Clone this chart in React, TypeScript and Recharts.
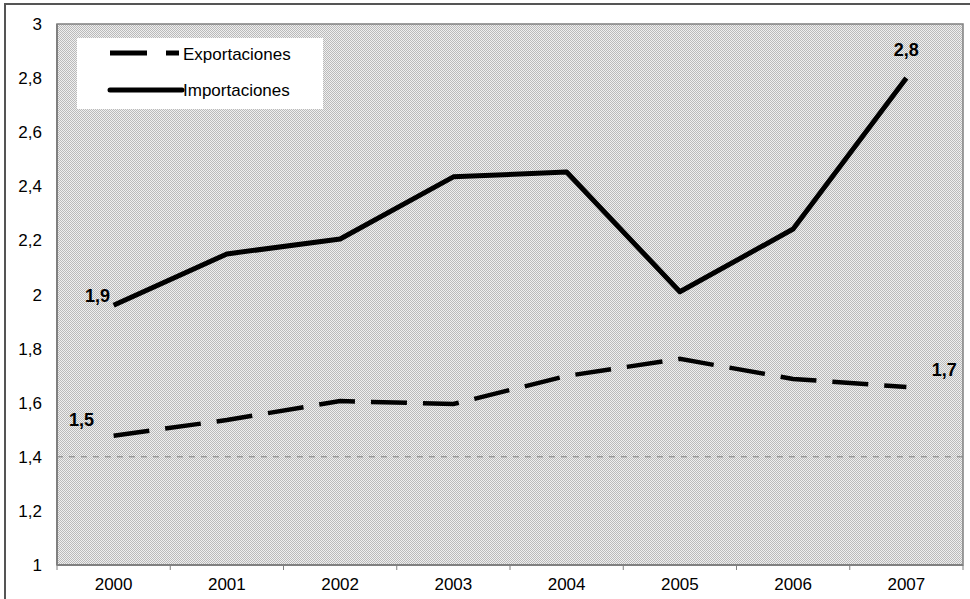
import { LineChart, Line, XAxis, YAxis, ReferenceArea, ReferenceLine } from 'recharts';

const years = ['2000', '2001', '2002', '2003', '2004', '2005', '2006', '2007'];
const exportaciones = [1.478, 1.536, 1.606, 1.595, 1.699, 1.762, 1.688, 1.658];
const importaciones = [1.96, 2.15, 2.205, 2.435, 2.453, 2.01, 2.242, 2.8];
const exportLabels = ['1,5', '', '', '', '', '', '', '1,7'];
const importLabels = ['1,9', '', '', '', '', '', '', '2,8'];
const yTicks = [1, 1.2, 1.4, 1.6, 1.8, 2, 2.2, 2.4, 2.6, 2.8, 3];

const data = years.map((y, i) => ({
  i,
  year: y,
  exportaciones: exportaciones[i],
  importaciones: importaciones[i],
}));

// ticks at category centres (labels) and at band edges (tick marks)
const xTicks: number[] = [];
for (let i = 0; i <= years.length; i++) {
  xTicks.push(i - 0.5);
  if (i < years.length) xTicks.push(i);
}

const FONT = '"Liberation Sans", Arial, sans-serif';
const GRAY = '#808080';

function XTick(props: any) {
  const { x, y, payload } = props;
  const v = payload.value;
  if (Number.isInteger(v)) {
    return (
      <text x={x} y={y + 13} dy="0.71em" textAnchor="middle" fontSize={17} fontFamily={FONT} fill="#000">
        {years[v]}
      </text>
    );
  }
  return <line x1={x} x2={x} y1={y} y2={y + 5} stroke={GRAY} strokeWidth={1} />;
}

const exportOffsets: Record<number, [number, number]> = { 0: [-32, -16], 7: [38, -17] };
const importOffsets: Record<number, [number, number]> = { 0: [-16, -10], 7: [0, -28] };

function makeDot(labels: string[], offsets: Record<number, [number, number]>) {
  return (props: any) => {
    const { cx, cy, index } = props;
    const txt = labels[index];
    if (!txt) return <g key={`d${index}`} />;
    const [dx, dy] = offsets[index] ?? [0, -20];
    return (
      <text
        key={`d${index}`}
        x={cx + dx}
        y={cy + dy}
        dy="0.35em"
        textAnchor="middle"
        fontSize={18}
        fontWeight="bold"
        fontFamily={FONT}
        fill="#000"
      >
        {txt}
      </text>
    );
  };
}

function LegendBox() {
  return (
    <svg width={246} height={71} style={{ display: 'block' }}>
      <rect x={0} y={0} width={246} height={71} fill="#fff" />
      <line x1={33} x2={70} y1={15} y2={15} stroke="#000" strokeWidth={5} />
      <line x1={89} x2={102} y1={15} y2={15} stroke="#000" strokeWidth={5} />
      <text x={106} y={16} dy="0.35em" fontSize={17} fontFamily={FONT} fill="#000">
        Exportaciones
      </text>
      <line x1={33} x2={105} y1={52} y2={52} stroke="#000" strokeWidth={5} strokeLinecap="round" />
      <text x={106} y={52} dy="0.35em" fontSize={17} fontFamily={FONT} fill="#000">
        Importaciones
      </text>
    </svg>
  );
}

export default function App() {
  return (
    <div style={{ position: 'absolute', left: 0, top: 0, width: 970, height: 599, overflow: 'hidden', background: '#fff' }}>
      <div
        style={{
          position: 'absolute',
          left: 4,
          top: 3,
          width: 990,
          height: 620,
          border: '2px solid #555',
          boxSizing: 'border-box',
        }}
      />
      <div style={{ position: 'absolute', left: 0, top: 0 }}>
        <LineChart width={970} height={599} data={data} margin={{ top: 24, right: 7, bottom: 0, left: 0 }}>
          <defs>
            <pattern id="hatch" width={2} height={2} patternUnits="userSpaceOnUse">
              <rect x={0} y={0} width={2} height={2} fill="#efefef" />
              <rect x={0} y={0} width={1} height={1} fill="#bababa" />
              <rect x={1} y={1} width={1} height={1} fill="#bababa" />
            </pattern>
          </defs>
          <XAxis
            dataKey="i"
            type="number"
            domain={[-0.5, years.length - 0.5]}
            ticks={xTicks}
            interval={0}
            tick={<XTick />}
            tickLine={false}
            tickSize={0}
            tickMargin={0}
            axisLine={{ stroke: GRAY, strokeWidth: 2 }}
            height={34}
          />
          <YAxis
            type="number"
            domain={[1, 3]}
            ticks={yTicks}
            interval={0}
            width={57}
            tickLine={false}
            tickMargin={9}
            axisLine={{ stroke: GRAY, strokeWidth: 2 }}
            tick={{ fontSize: 17, fill: '#000', fontFamily: FONT }}
            tickFormatter={(v: number) => String(Math.round(v * 10) / 10).replace('.', ',')}
          />
          <ReferenceArea
            x1={-0.5}
            x2={years.length - 0.5}
            y1={1}
            y2={3}
            fill="url(#hatch)"
            fillOpacity={1}
            stroke={GRAY}
            strokeWidth={1.5}
          />
          <ReferenceLine y={1.4} stroke={GRAY} strokeDasharray="6 6" strokeWidth={1} />
          <Line
            type="linear"
            dataKey="exportaciones"
            stroke="#000"
            strokeWidth={4.5}
            strokeDasharray="36 16"
            dot={makeDot(exportLabels, exportOffsets)}
            activeDot={false}
            isAnimationActive={false}
          />
          <Line
            type="linear"
            dataKey="importaciones"
            stroke="#000"
            strokeWidth={5}
            strokeLinejoin="round"
            dot={makeDot(importLabels, importOffsets)}
            activeDot={false}
            isAnimationActive={false}
          />
        </LineChart>
      </div>
      <div style={{ position: 'absolute', left: 77, top: 38 }}>
        <LegendBox />
      </div>
    </div>
  );
}
